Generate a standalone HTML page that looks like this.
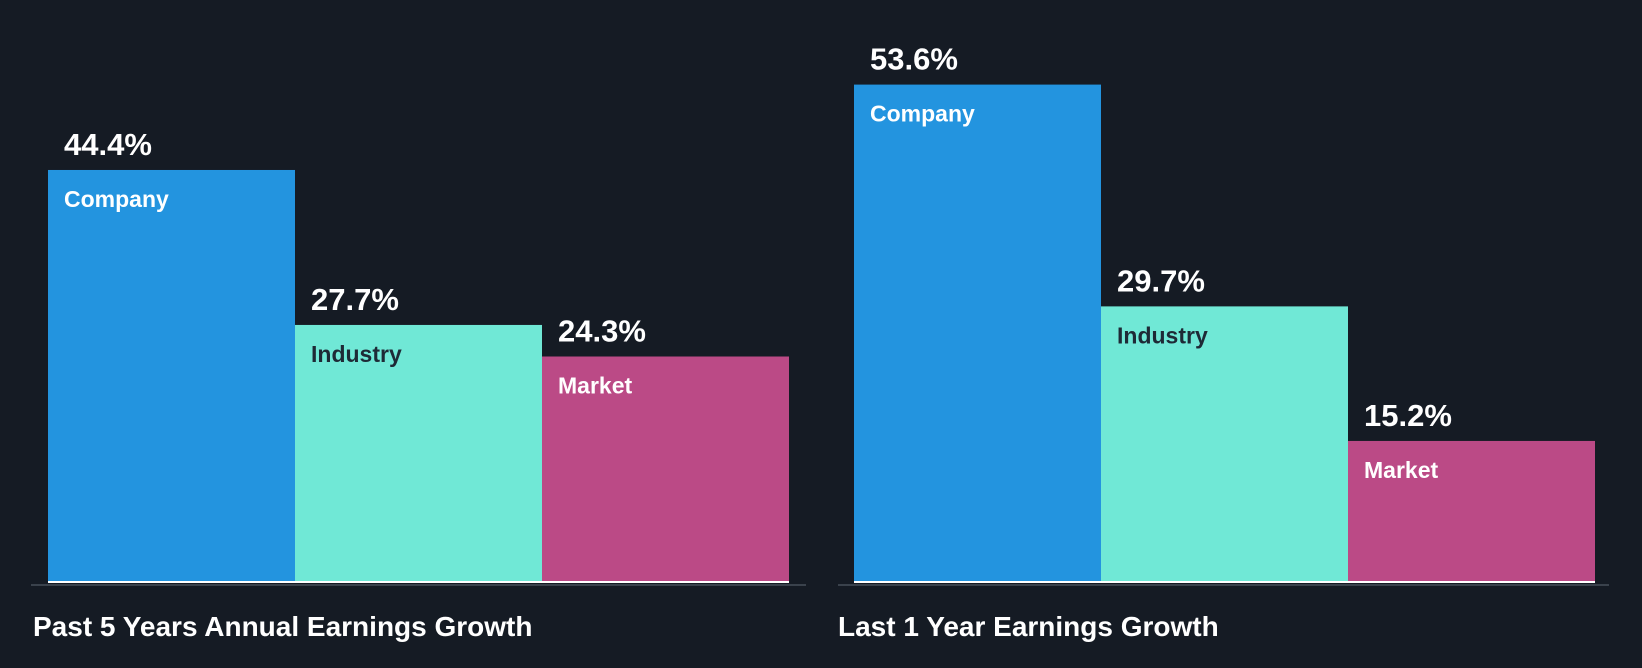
<!DOCTYPE html>
<html><head><meta charset="utf-8"><style>
html,body{margin:0;padding:0;background:#151b24;}
svg{display:block;font-family:"Liberation Sans",Arial,sans-serif;font-weight:bold;}
</style></head><body>
<svg id="c" width="1642" height="668"></svg>
<script>
const categories=["Company","Industry","Market"];
const past5Values=[44.4,27.7,24.3];
const last1Values=[53.6,29.7,15.2];
const panelTitles=["Past 5 Years Annual Earnings Growth","Last 1 Year Earnings Growth"];
const colors=["#2394df","#70e8d6","#bb4a86"];
const labelColors=["#ffffff","#1e2a36","#ffffff"];
const svg=document.getElementById('c');
const NS="http://www.w3.org/2000/svg";
const baseY=582, pxPer=9.28, barW=247;
function y(v){return baseY-v*pxPer;}
function mk(t,a,p){const e=document.createElementNS(NS,t);for(const k in a)e.setAttribute(k,a[k]);(p||svg).appendChild(e);return e;}
const panels=[{x0:48,ax0:31,ax1:806,tx:33,vals:past5Values,name:'past-5-years'},{x0:854,ax0:838,ax1:1609,tx:838,vals:last1Values,name:'last-1-year'}];
panels.forEach((p,pi)=>{
  const g=mk('g',{});
  
  
  p.vals.forEach((v,i)=>{
    const x=p.x0+i*barW, top=y(v);
    const r=mk('rect',{x:x,y:top,width:barW,height:baseY-top,fill:colors[i]},g);
    
    
    const vt=mk('text',{x:x+16,y:top-15,fill:'#fff','font-size':31},g);
    vt.textContent=v.toFixed(1)+'%';
    
    
    const ct=mk('text',{x:x+16,y:top+37,fill:labelColors[i],'font-size':23},g);
    ct.textContent=categories[i];
    
    
  });
  const wl=mk('rect',{x:p.x0,y:baseY-1,width:barW*3,height:2,fill:'#ffffff'},g);
  
  
  const al=mk('rect',{x:p.ax0,y:584,width:p.ax1-p.ax0,height:2,fill:'#3a424c'},g);
  
  
  const tt=mk('text',{x:p.tx,y:636,fill:'#fff','font-size':28},g);
  tt.textContent=panelTitles[pi];
  
  
});
</script>
</body></html>
